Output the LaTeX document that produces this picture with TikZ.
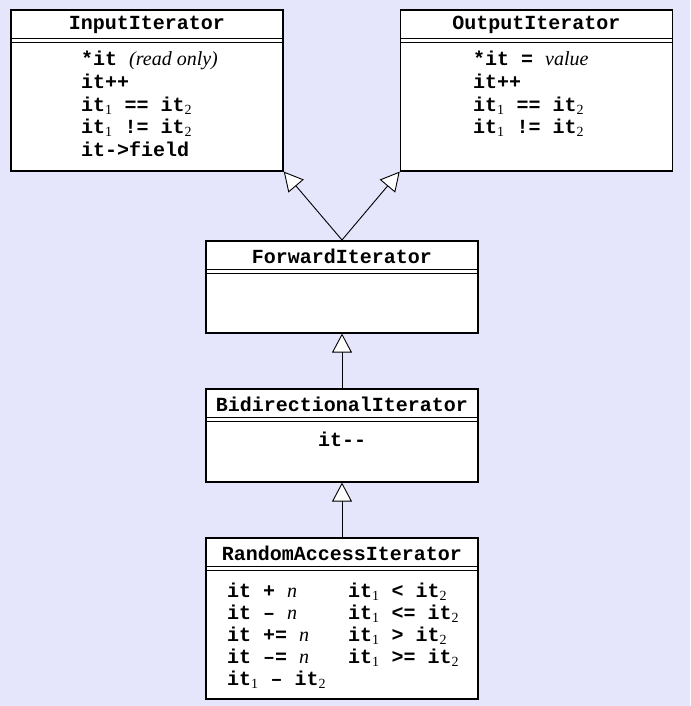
\documentclass[tikz,border=0pt]{standalone}
\usepackage{fontspec}
\setmainfont{Liberation Serif}
\setmonofont{Liberation Mono}
\usetikzlibrary{arrows.meta}
\definecolor{bglilac}{RGB}{229,229,252}
\newcommand{\idx}[1]{\textsubscript{\rmfamily\mdseries #1}}
\newcommand{\var}[1]{{\rmfamily\mdseries\itshape #1}}
\tikzset{
  classbox/.style={draw, line width=1.6pt, fill=white, rectangle, minimum width=272pt, inner sep=0pt, anchor=north},
  classname/.style={font={\fontsize{20}{23}\selectfont\ttfamily\bfseries}, inner sep=0pt, anchor=center},
  members/.style={font={\fontsize{20}{22.5}\selectfont\ttfamily\bfseries}, align=left, inner sep=0pt, anchor=base west},
  rule/.style={line width=1pt},
  inherit/.style={-{Triangle[length=19pt, width=20pt, fill=white]}, line width=0.9pt}
}

\begin{document}
\begin{tikzpicture}[x=1pt, y=-1pt]

\fill[bglilac] (0,0) rectangle (690,706);
\useasboundingbox (0,0) rectangle (690,706);

% class boxes
\node[classbox, minimum height=161pt] (input) at (147,9) {};
\node[classbox, minimum height=161pt] (output) at (536.5,9) {};
\node[classbox, minimum height=92pt] (forward) at (342,240) {};
\node[classbox, minimum height=93pt] (bidi) at (342,388) {};
\node[classbox, minimum height=161pt] (random) at (342,537) {};

% names and header rules
\foreach \b/\t in {input/InputIterator, output/OutputIterator, forward/ForwardIterator,
                   bidi/BidirectionalIterator, random/RandomAccessIterator}{
	\node[classname] (\b name) at ([yshift=-16pt]\b.north) {\t};
	\draw[rule] ([yshift=-29.5pt]\b.north west) -- ([yshift=-29.5pt]\b.north east);
	\draw[rule] ([yshift=-33.5pt]\b.north west) -- ([yshift=-33.5pt]\b.north east);
}

% operations (anchored at the baseline of the last line)
\node[members] (inputops) at (81,156) {*it \var{(read only)}\\it++\\it\idx{1} == it\idx{2}\\it\idx{1} != it\idx{2}\\it->field};
\node[members] (outputops) at (473,133.5) {*it = \var{value}\\it++\\it\idx{1} == it\idx{2}\\it\idx{1} != it\idx{2}};
\node[members, anchor=base] (bidiops) at (342,446) {it-{}-};
\node[members, font={\fontsize{20}{22}\selectfont\ttfamily\bfseries}] (randomops) at (227,685) {%
	\makebox[121pt][l]{it + \var{n}}it\idx{1} < it\idx{2}\\
	\makebox[121pt][l]{it \textendash{} \var{n}}it\idx{1} <= it\idx{2}\\
	\makebox[121pt][l]{it += \var{n}}it\idx{1} > it\idx{2}\\
	\makebox[121pt][l]{it \textendash= \var{n}}it\idx{1} >= it\idx{2}\\
	it\idx{1} \textendash{} it\idx{2}};

% generalisations
\draw[inherit] (forward.north) -- (input.south east);
\draw[inherit] (forward.north) -- (output.south west);
\draw[inherit] (bidi.north) -- (forward.south);
\draw[inherit] (random.north) -- (bidi.south);

\end{tikzpicture}
\end{document}
